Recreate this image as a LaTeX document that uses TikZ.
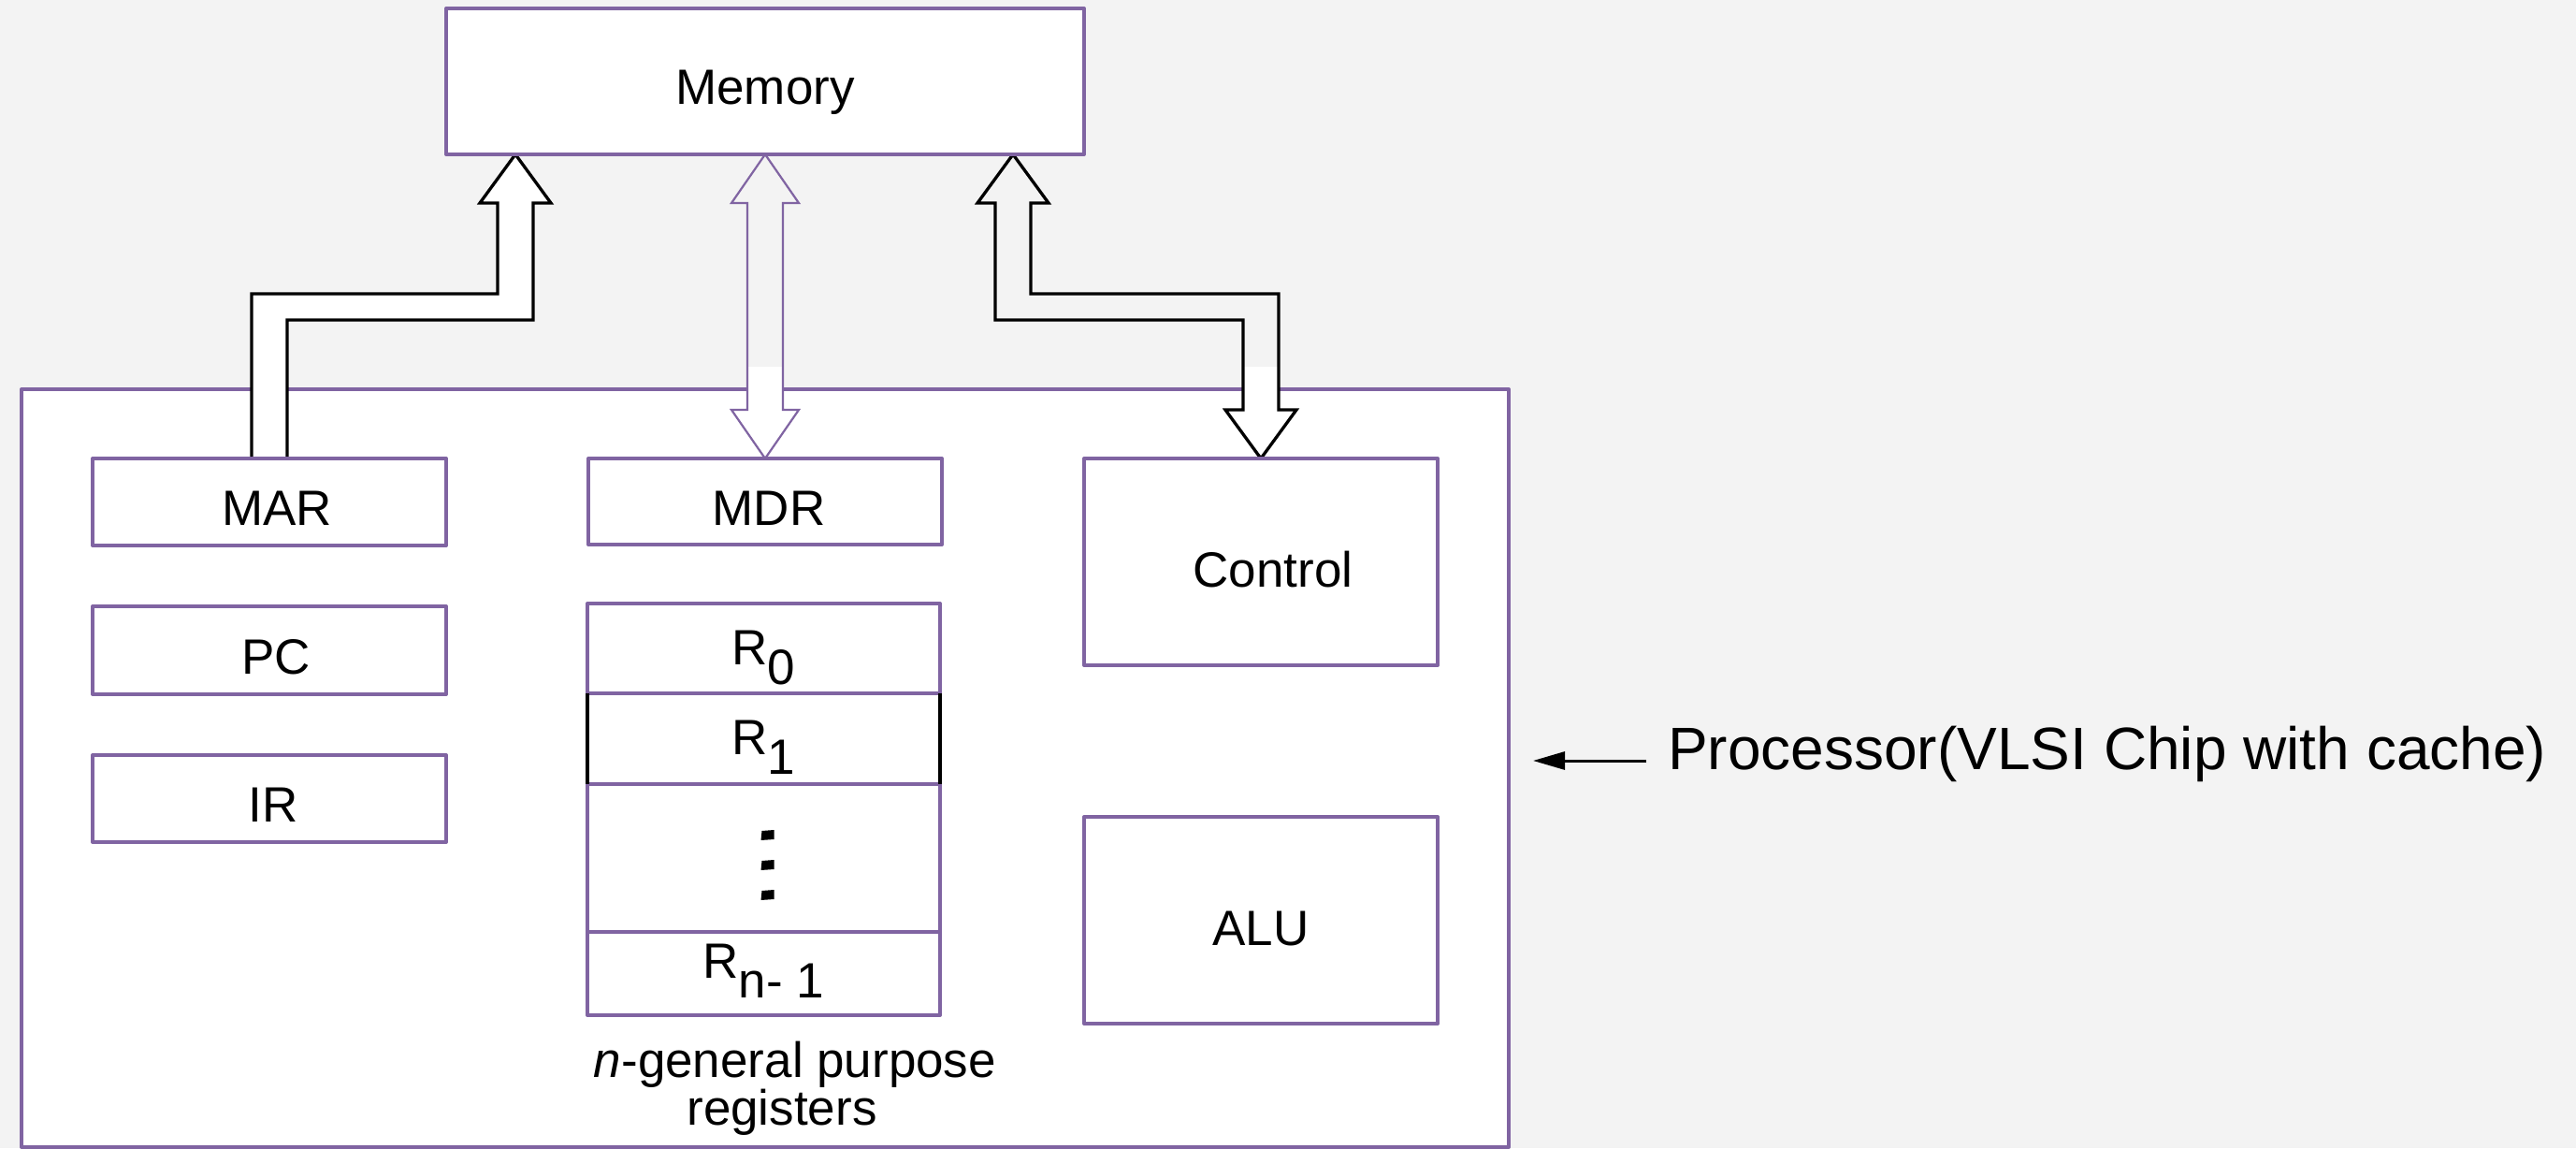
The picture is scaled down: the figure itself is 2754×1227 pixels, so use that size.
\documentclass[tikz,border=0pt]{standalone}
\usepackage{fontspec}
\setmainfont{Liberation Sans}
\usetikzlibrary{arrows.meta,calc}
\definecolor{pagebg}{RGB}{243,243,243}
\definecolor{frame}{RGB}{128,100,162}
\pgfdeclarelayer{back}
\pgfdeclarelayer{mid}
\pgfsetlayers{back,mid,main}

\begin{document}
\begin{tikzpicture}[x=1pt,y=-1pt,
  box/.style={draw=frame, line width=4pt, fill=white, line join=round,
    inner sep=0pt, outer sep=0pt, text height=50pt, text depth=0pt,
    font=\fontsize{53}{60}\selectfont},
  regbox/.style={box, minimum width=377pt, text height=34pt},
  sidebox/.style={box, minimum width=378pt},
  bus/.style={draw=black, line width=3.3pt, line join=miter},
  dbus/.style={draw=frame, line width=2.2pt, line join=miter},
  ptr/.style={line width=3pt, -{Triangle[length=34pt,width=19pt]}},
]
% page background and fixed extent
\begin{pgfonlayer}{back}
  \fill[pagebg] (0,0) rectangle (2754,1227);
  \node[box, minimum width=1590pt, minimum height=810pt] (proc) at (818,821) {};
\end{pgfonlayer}
\useasboundingbox (0,0) rectangle (2754,1227);

% memory
\node[box, minimum width=682pt, minimum height=156pt] (mem) at (818,87) {Memory};

% left column of registers
\node[sidebox, minimum height=93pt] (mar) at (288,536.5) {\hspace*{16pt}MAR};
\node[sidebox, minimum height=94pt] (pc)  at (288,695)   {\hspace*{14pt}PC};
\node[sidebox, minimum height=93pt] (ir)  at (288,853.5) {\hspace*{8pt}IR};

% middle column: MDR and the register file
\node[sidebox, minimum height=92pt] (mdr) at (818,536) {\hspace*{8pt}MDR};
\node[regbox, minimum height=96pt] (r0) at (816.5,693) {R\raisebox{-21pt}{0}};
\node[regbox, minimum height=97pt] (r1) at (816.5,789.5) {R\raisebox{-21pt}{1}};
\node[regbox, minimum height=158pt] (rdots) at (816.5,917) {};
\node[regbox, minimum height=89pt, text height=10pt] (rn) at (816.5,1040.5) {R\raisebox{-21pt}{n- 1}};
\draw[black, line width=4.5pt] (r1.north west) -- (r1.south west);
\draw[black, line width=4.5pt] (r1.north east) -- (r1.south east);
\foreach \dy in {-24,8,40}
  \fill[black] ($(rdots.center)+(-2,\dy-5)$) -- ++(13,-1) -- ++(0,10) -- ++(-14,1) -- cycle;
\node[inner sep=0pt, anchor=north, align=center, font=\fontsize{53}{51}\selectfont]
  (regcap) at (824,1113) {\hspace*{52pt}\textit{n}-general purpose\\\hspace*{24pt}registers};

% right column
\node[sidebox, minimum height=221pt, text height=54pt] (ctrl) at (1348,600.5) {\hspace*{26pt}Control};
\node[sidebox, minimum height=221pt, text height=54pt] (alu)  at (1348,983.5) {ALU};

% buses between memory and processor
\begin{pgfonlayer}{mid}
  % address bus MAR -> memory
  \coordinate (mT) at ($(mem.south west)+(74,0)$);
  \draw[bus, fill=white] ($(mar.north)+(-19,0)$) |- ($(mT)+(-19,149)$)
    -- ($(mT)+(-19,52)$) -- ($(mT)+(-38,52)$) -- (mT) -- ($(mT)+(38,52)$)
    -- ($(mT)+(19,52)$) |- ($(mar.north)+(19,-148)$) -- ($(mar.north)+(19,0)$);
  % data bus memory <-> MDR
  \fill[white] ($(mdr.north)+(-19,-98)$) rectangle ($(mdr.north)+(19,-50)$);
  \draw[dbus] (mem.south) -- ++(36,52) -- ++(-17,0) -- ($(mdr.north)+(19,-52)$)
    -- ++(17,0) -- (mdr.north) -- ++(-36,-52) -- ++(17,0)
    -- ($(mem.south)+(-19,52)$) -- ++(-17,0) -- cycle;
  % control bus memory <-> control unit
  \coordinate (cT) at ($(mem.south east)+(-76,0)$);
  \fill[white] ($(ctrl.north)+(-19,-98)$) rectangle ($(ctrl.north)+(19,-50)$);
  \draw[bus] (cT) -- ++(38,52) -- ++(-19,0) |- ($(ctrl.north)+(19,-176)$)
    -- ($(ctrl.north)+(19,-52)$) -- ++(19,0) -- (ctrl.north) -- ++(-38,-52)
    -- ++(19,0) |- ($(cT)+(-19,177)$) -- ($(cT)+(-19,52)$) -- ++(-19,0) -- cycle;
\end{pgfonlayer}

% processor label
\node[inner sep=0pt, anchor=base west, font=\fontsize{64}{70}\selectfont]
  (plabel) at (1783,822) {Processor(VLSI Chip with cache)};
\coordinate (ptip) at (1639,813);
\draw[ptr] ($(plabel.base west)+(-23,-9)$) -- (ptip);
\end{tikzpicture}
\end{document}
